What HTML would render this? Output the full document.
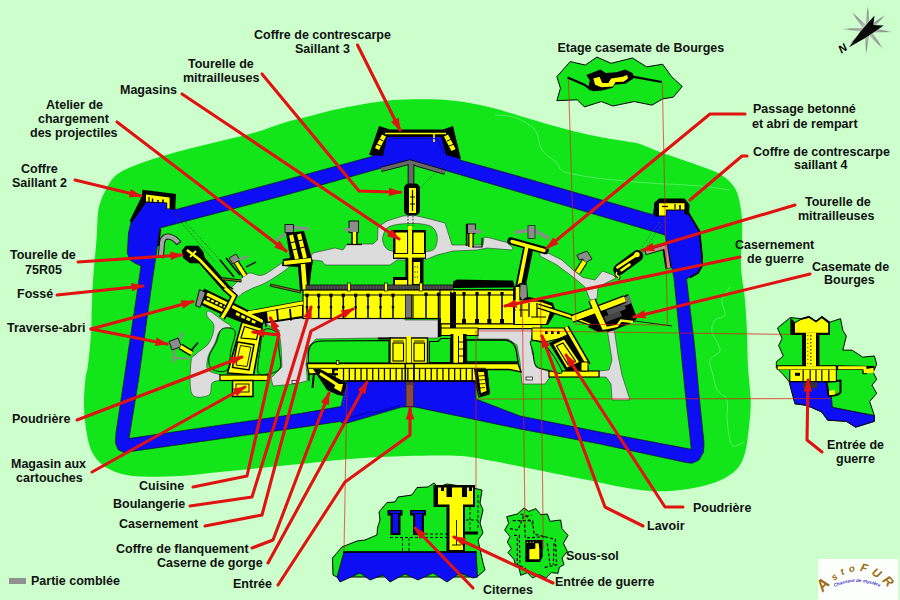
<!DOCTYPE html>
<html lang="fr"><head><meta charset="utf-8"><title>Plan du fort</title>
<style>
html,body{margin:0;padding:0;background:#ccffcc;}
body{width:900px;height:600px;overflow:hidden;}
svg{display:block}
text{font-family:"Liberation Sans",Arial,sans-serif;font-weight:bold;font-size:12.5px;fill:#111;}
</style></head><body>
<svg width="900" height="600" viewBox="0 0 900 600">
<rect x="0" y="0" width="900" height="600" fill="#ccffcc" stroke="none" stroke-width="0" />
<path d="M98,213C98.7,206.7 99.4,205.5 100.5,202C101.6,198.5 102.5,196.2 104.7,192C107.0,187.8 110.0,181.0 114,177C118.0,173.0 122.7,170.8 128.7,168C134.7,165.2 142.0,162.7 150,160C158.0,157.3 167.8,154.4 176.7,152C185.6,149.6 194.4,147.5 203.3,145.3C212.2,143.1 221.1,140.9 230,138.7C238.9,136.5 247.8,134.6 256.7,132C265.6,129.4 274.4,125.7 283.3,123C292.2,120.3 301.7,118.2 310,116C318.3,113.8 324.7,111.9 333,110C341.3,108.1 351.0,106.2 360,104.7C369.0,103.2 378.2,101.6 387,100.7C395.8,99.8 404.2,99.5 413,99.3C421.8,99.1 431.0,99.0 440,99.5C449.0,100.0 458.2,101.1 467,102.5C475.8,103.9 484.2,105.8 493,108C501.8,110.2 511.0,113.3 520,116C529.0,118.7 538.2,121.5 547,124C555.8,126.5 564.2,128.8 573,131C581.8,133.2 591.0,135.2 600,137C609.0,138.8 620.3,140.3 627,141.5C633.7,142.7 634.5,142.2 640,144C645.5,145.8 653.3,149.5 660,152C666.7,154.5 673.3,156.7 680,159C686.7,161.3 694.0,163.8 700,166C706.0,168.2 711.3,169.7 716,172C720.7,174.3 724.7,177.0 728,180C731.3,183.0 734.0,186.0 736,190C738.0,194.0 739.0,199.0 740,204C741.0,209.0 741.7,214.0 742,220C742.3,226.0 742.2,232.2 742,240C741.8,247.8 740.5,257.0 741,267C741.5,277.0 744.0,289.0 745,300C746.0,311.0 746.5,321.8 747,333C747.5,344.2 747.4,355.8 748,367C748.6,378.2 750.5,390.0 750.7,400C750.9,410.0 750.0,418.2 749,427C748.0,435.8 747.0,446.0 745,453C743.0,460.0 741.0,464.5 737,469C733.0,473.5 727.2,477.1 721,480C714.8,482.9 708.0,484.9 700,486.7C692.0,488.5 681.8,490.0 673,490.7C664.2,491.4 655.8,491.4 647,490.7C638.2,490.0 629.0,488.3 620,486.7C611.0,485.1 601.8,482.8 593,481C584.2,479.2 575.8,477.8 567,476C558.2,474.2 549.0,472.3 540,470.5C531.0,468.7 521.8,466.8 513,465C504.2,463.2 495.8,461.5 487,460C478.2,458.5 473.3,456.7 460,456C446.7,455.3 424.8,455.6 407,456C389.2,456.4 370.8,457.4 353,458.7C335.2,460.0 315.5,462.4 300,464C284.5,465.6 273.3,466.7 260,468C246.7,469.3 233.3,470.7 220,472C206.7,473.3 193.3,475.2 180,476C166.7,476.8 150.2,477.0 140,476.5C129.8,476.0 124.9,474.9 118.7,473C112.5,471.1 107.2,468.5 102.7,465C98.2,461.5 94.7,457.3 92,452C89.3,446.7 88.0,440.6 86.7,433C85.4,425.4 84.2,415.5 84,406.7C83.8,397.9 84.6,386.9 85.3,380C86.0,373.1 87.0,372.8 88,365C89.0,357.2 90.3,343.8 91,333C91.7,322.2 91.5,311.0 92,300C92.5,289.0 93.2,277.0 94,267C94.8,257.0 95.8,249.0 96.5,240C97.2,231.0 97.3,219.3 98,213Z" fill="#12e61a" stroke="none" stroke-width="0" />
<path d="M495,115C498.3,115.4 508.3,115.0 515,117.5C521.7,120.0 530.5,124.6 535,130C539.5,135.4 538.3,144.5 542,150C545.7,155.5 553.8,159.7 557,163C560.2,166.3 558.3,168.2 561,170C563.7,171.8 566.5,172.6 573,174C579.5,175.4 587.2,177.0 600,178.5C612.8,180.0 633.3,181.8 650,183C666.7,184.2 686.7,184.8 700,186C713.3,187.2 725.0,189.3 730,190" fill="none" stroke="#6df078" stroke-width="0.7" />
<path d="M730,287C728.7,289.2 722.8,295.3 722,300C721.2,304.7 726.2,311.7 725,315C723.8,318.3 717.2,317.2 715,320C712.8,322.8 711.2,327.0 712,332C712.8,337.0 720.3,345.3 720,350C719.7,354.7 711.2,355.8 710,360C708.8,364.2 711.8,370.0 713,375C714.2,380.0 714.7,385.8 717,390C719.3,394.2 725.3,395.0 727,400C728.7,405.0 726.2,412.5 727,420C727.8,427.5 729.2,441.3 732,445C734.8,448.7 742.0,442.5 744,442" fill="none" stroke="#6df078" stroke-width="0.7" />
<path d="M146,202 L131,222 L128.5,233 L127.3,253 L130,260 L134.7,263 L141,266 L136,300 L124,380 L116,433 L115.5,443 L118,449.5 L124,452.5 L300,427.5 L340,421.5 L344,424 L402,407 L415,407 L520,429 L600,444 L686,462.5 L692,463.3 L699,460 L703.5,452 L704,443 L699,395 L695,350 L686.5,279 L690,277 L698,273 L702,266 L702,256 L699.5,231.5 L689,214 L687,204 L655,204 L653,214.7 L500,171 L460,160 L452,132 L380,132 L372,156.5 L280,181.4 L175,209.8 L174,196 L143,192Z M160,228 L285,195.2 L410,160 L665,235 L674,278 L681,350 L685,390 L691.3,449.3 L600,432 L520,416 L476,399 L475,381 L347,381 L341,406.5 L300,413.5 L129,438.5 L138.5,380 L149.5,300Z" fill="#0e0ef4" stroke="#000" stroke-width="0.6" fill-rule="evenodd" stroke-linejoin="round"/>
<path d="M228,292C229.0,288.7 239.3,280.2 243,277C246.7,273.8 246.7,273.3 250,273C253.3,272.7 257.7,276.7 263,275C268.3,273.3 277.8,265.5 282,263C286.2,260.5 286.8,259.3 288,260C289.2,260.7 292.5,263.3 289,267C285.5,270.7 273.0,278.5 267,282C261.0,285.5 257.0,286.2 253,288C249.0,289.8 245.7,291.5 243,293C240.3,294.5 239.5,297.2 237,297C234.5,296.8 227.0,295.3 228,292Z" fill="#dcdcdc" stroke="#333" stroke-width="0.6" />
<polygon points="311,256 313,253 335,248 343,250 347,244 373,244 377.5,240 378,227 387,221 403,216 413,215 430,219 445,223 452,245 467,245 483,245 484,237 490,238 507,242.5 513,248 512,250 487,248 477,250 453,251 437,255 425,260 397,260 390,265 325,265 322,261 312,260 311,262" fill="#dcdcdc" stroke="#333" stroke-width="0.6" stroke-linejoin="round"/>
<path d="M383,236C383.7,233.7 384.7,229.9 387,228C389.3,226.1 393.2,225.2 397,224.5C400.8,223.8 405.8,223.6 410,223.5C414.2,223.4 418.3,223.4 422,224C425.7,224.6 429.5,225.2 432,227C434.5,228.8 436.3,231.8 437,235C437.7,238.2 437.2,243.3 436,246C434.8,248.7 434.3,250.0 430,251C425.7,252.0 416.3,252.0 410,252C403.7,252.0 396.0,251.7 392,251C388.0,250.3 387.5,249.5 386,248C384.5,246.5 383.5,244.0 383,242C382.5,240.0 382.3,238.3 383,236Z" fill="#12e61a" stroke="#333" stroke-width="0.6" />
<polygon points="540,250 550,254 562,260 573,270 583,277.5 595,280 602.5,271 613,275 616,278 598,287 597,299 590,300 585,287 573,277 557,265 540,256" fill="#dcdcdc" stroke="#333" stroke-width="0.6" stroke-linejoin="round"/>
<polygon points="607,328 614,328 618,355 622,375 630,400 612,400 611,384 606,377 599,377 599,371 609,370 612,360" fill="#dcdcdc" stroke="#333" stroke-width="0.6" stroke-linejoin="round"/>
<polygon points="262,322 300,318 405,318 405,320 438,320 438,338 378,338 316,339 308,347 306,365 307,375 307,381 295,384 273,386 271,378 282,367 281,346 279,330 270,326" fill="#dcdcdc" stroke="#333" stroke-width="0.6" stroke-linejoin="round"/>
<polygon points="478,329 533,329 531,340 532,352 536,367 550,372 550,377 545,384 522,384 520,362 517,345 508,339 478,339" fill="#dcdcdc" stroke="#333" stroke-width="0.6" stroke-linejoin="round"/>
<rect x="526" y="377" width="6.5" height="3" fill="#f4f4f4" stroke="#000" stroke-width="0.7" />
<path d="M209,311C211.5,311.7 218.3,317.3 222,320C225.7,322.7 231.3,325.2 231,327C230.7,328.8 222.7,328.3 220,331C217.3,333.7 217.0,338.7 215,343C213.0,347.3 209.2,352.5 208,357C206.8,361.5 206.0,367.0 208,370C210.0,373.0 218.0,373.3 220,375C222.0,376.7 221.3,378.7 220,380C218.7,381.3 213.8,380.5 212,383C210.2,385.5 212.3,393.2 209,395C205.7,396.8 195.0,399.5 192,394C189.0,388.5 190.3,368.7 191,362C191.7,355.3 193.0,357.2 196,354C199.0,350.8 206.0,347.7 209,343C212.0,338.3 214.3,330.5 214,326C213.7,321.5 207.8,318.5 207,316C206.2,313.5 206.5,310.3 209,311Z" fill="#dcdcdc" stroke="#333" stroke-width="0.6" />
<rect x="292" y="380.5" width="5.5" height="3" fill="#f4f4f4" stroke="#000" stroke-width="0.7" />
<path d="M160.8,258 L162,243 Q163,235.5 169.5,236.6 Q175,238 179,243.5" fill="none" stroke="#000" stroke-width="6"/>
<path d="M160.8,257.2 L162,243 Q163,235.5 169.5,236.6 Q175,238 178.4,242.8" fill="none" stroke="#a4a4a4" stroke-width="4.2"/>
<polyline points="160.5,229 158.2,246" fill="none" stroke="#000" stroke-width="1.6" />
<polyline points="381,169.6 410,162 445,172.2" fill="none" stroke="#000" stroke-width="5.2" stroke-linejoin="round"/>
<polyline points="381,169.6 410,162 445,172.2" fill="none" stroke="#686868" stroke-width="3.6" stroke-linejoin="round"/>
<polyline points="411,164 411,184" fill="none" stroke="#000" stroke-width="6.6" stroke-linejoin="round"/>
<polyline points="411,164 411,184" fill="none" stroke="#686868" stroke-width="5" stroke-linejoin="round"/>
<polyline points="645,252.5 665,246.5 668.5,268.5" fill="none" stroke="#000" stroke-width="6" stroke-linejoin="miter"/>
<polyline points="646,252.6 665.6,246.8 668.9,268" fill="none" stroke="#c48c8c" stroke-width="3.2" stroke-linejoin="miter"/>
<polygon points="142.5,189.8 176,194 175.2,209.5 166.5,209 166.8,203 146,202.5 132,222.5 129.6,221 141.8,196" fill="#000" stroke="none" stroke-width="0" />
<polygon points="146,194.6 169.6,197.6 169.6,208.6 167.2,208.6 167.2,202.6 146,201.6" fill="#ffff00" stroke="none" stroke-width="0" />
<polyline points="149,197 149,202" fill="none" stroke="#000" stroke-width="1.2" />
<polyline points="152.5,198.5 152.5,202" fill="none" stroke="#000" stroke-width="1.4" />
<polyline points="158,200 158,202.5" fill="none" stroke="#000" stroke-width="1.6" />
<polyline points="163,199.5 163,203" fill="none" stroke="#000" stroke-width="1.6" />
<polygon points="379,126 390,129.5 443,129.5 453,126 461,159 446,155 441,137 387,137 383,156 369,155" fill="#000" stroke="none" stroke-width="0" />
<polyline points="377,149 384,135.5" fill="none" stroke="#ffff00" stroke-width="4.6" />
<polyline points="446,135.5 453.5,150" fill="none" stroke="#ffff00" stroke-width="4.6" />
<polyline points="385,133.5 446,133.5" fill="none" stroke="#ffff00" stroke-width="1.5" />
<polyline points="434,134 434,142" fill="none" stroke="#ffff00" stroke-width="1.6" />
<polyline points="376.5,144 381,146" fill="none" stroke="#000" stroke-width="1" />
<polyline points="379,139 383.5,141" fill="none" stroke="#000" stroke-width="1" />
<polyline points="447,141 452,139" fill="none" stroke="#000" stroke-width="1" />
<polyline points="449,146 454.5,144" fill="none" stroke="#000" stroke-width="1" />
<polyline points="388,141 392,138.5 437,138.5 444,153" fill="none" stroke="#00a" stroke-width="0.8" />
<polygon points="654,203 659,198.5 684.5,198.5 689.5,204.5 689,215 684,214 684.5,210.5 666.5,210.5 666.5,216.5 654.5,216.5" fill="#000" stroke="none" stroke-width="0" />
<polygon points="659,203.3 684.5,203.3 684.5,209.5 666,209.5 666,215.5 659,215.5" fill="#ffff00" stroke="none" stroke-width="0" />
<polyline points="662,206.5 668,206.5" fill="none" stroke="#000" stroke-width="1.2" />
<polyline points="675,204 675,209" fill="none" stroke="#000" stroke-width="1.2" />
<polyline points="680,205 680,210" fill="none" stroke="#000" stroke-width="1.6" />
<polyline points="688.5,213 699.5,231.5 702,256 702,266 698,273 690,277.5" fill="none" stroke="#000" stroke-width="1.7" stroke-linejoin="round"/>
<rect x="404" y="183.5" width="16" height="32" rx="5" fill="#000"/>
<rect x="409" y="188" width="7" height="25" fill="#ffff00" stroke="none" stroke-width="0" />
<polyline points="412.5,190 412.5,211" fill="none" stroke="#000" stroke-width="1.2" />
<polyline points="410,197 415,197" fill="none" stroke="#000" stroke-width="1" />
<polyline points="410,204 415,204" fill="none" stroke="#000" stroke-width="1" />
<polyline points="408,216 408,226" fill="none" stroke="#000" stroke-width="0.8" stroke-dasharray="1.5 1.5"/>
<polyline points="413,216 413,226" fill="none" stroke="#000" stroke-width="0.8" stroke-dasharray="1.5 1.5"/>
<polyline points="418,190 448,160" fill="none" stroke="#444" stroke-width="0.6" stroke-dasharray="2 1.5"/>
<polygon points="181.7,250.8 185.8,245.8 198.3,245.8 203.3,251.7 205,258.3 200,263.3 190,263.3 183.3,258.3" fill="#000" stroke="none" stroke-width="0" />
<polyline points="198,256 226,288" fill="none" stroke="#000" stroke-width="8" stroke-linecap="round"/>
<polyline points="187,250 200,260 226,288" fill="none" stroke="#ffff00" stroke-width="2.6" />
<polyline points="190,257 196,251" fill="none" stroke="#ffff00" stroke-width="2" />
<polyline points="224,286 232,291" fill="none" stroke="#000" stroke-width="6" />
<polyline points="224,286 233,291" fill="none" stroke="#ffff00" stroke-width="2.2" />
<polyline points="221,278.6 241.5,281" fill="none" stroke="#111" stroke-width="3" />
<polyline points="222,278.8 241,280.9" fill="none" stroke="#8a8a00" stroke-width="0.9" />
<polyline points="172,212 215,262" fill="none" stroke="#333" stroke-width="0.6" stroke-dasharray="2 1.5"/>
<polyline points="176,212 222,262" fill="none" stroke="#333" stroke-width="0.6" stroke-dasharray="2 1.5"/>
<polyline points="220,260 234,277" fill="none" stroke="#000" stroke-width="1.6" />
<polyline points="226,258 240,275" fill="none" stroke="#000" stroke-width="1.6" />
<polyline points="236,262 245,276" fill="none" stroke="#000" stroke-width="6" stroke-linecap="butt" stroke-linejoin="miter"/>
<polyline points="236,262 245,276" fill="none" stroke="#ffff00" stroke-width="3.4" stroke-linecap="butt" stroke-linejoin="miter"/>
<polygon points="229,258 236,254 240,260 233,264" fill="#8c8c8c" stroke="#000" stroke-width="0.8" />
<polyline points="239,260 248,256" fill="none" stroke="#8c8c8c" stroke-width="2.2" />
<polyline points="246,267 256,262" fill="none" stroke="#222" stroke-width="1.6" />
<polyline points="276,240 288,232" fill="none" stroke="#8c8c8c" stroke-width="2.6" />
<polyline points="292,227 309,229" fill="none" stroke="#8c8c8c" stroke-width="3" />
<rect x="285" y="224.5" width="8.5" height="8" fill="#8c8c8c" stroke="#000" stroke-width="0.8" />
<polygon points="286,233 304,231 313,262 312,266 309,290 300,291 298,267 282,266 283,259 290,258" fill="#000" stroke="none" stroke-width="0" />
<polyline points="291,235 297,259" fill="none" stroke="#ffff00" stroke-width="4" />
<polyline points="299,234 305,258" fill="none" stroke="#ffff00" stroke-width="4" />
<polyline points="284,263 311,260" fill="none" stroke="#ffff00" stroke-width="4" />
<polyline points="303,264 305,290" fill="none" stroke="#ffff00" stroke-width="4.5" />
<polyline points="290.8,242.8 302.8,239.8" fill="none" stroke="#000" stroke-width="1" />
<polyline points="292.6,250 304.6,247" fill="none" stroke="#000" stroke-width="1" />
<rect x="393" y="230" width="33" height="29" fill="#000" stroke="none" stroke-width="0" />
<rect x="395.5" y="232.5" width="11.5" height="20.5" fill="#ffff00" stroke="none" stroke-width="0" />
<rect x="413.5" y="232.5" width="10.5" height="20.5" fill="#ffff00" stroke="none" stroke-width="0" />
<rect x="408.3" y="226" width="3.6" height="64" fill="#ffff00" stroke="none" stroke-width="0" />
<rect x="394" y="254" width="31" height="3.6" fill="#ffff00" stroke="none" stroke-width="0" />
<rect x="405.5" y="258" width="18" height="30" fill="#000" stroke="none" stroke-width="0" />
<rect x="408.3" y="226" width="3.6" height="64" fill="#ffff00" stroke="none" stroke-width="0" />
<rect x="413.5" y="262" width="6.5" height="22" fill="#ffff00" stroke="none" stroke-width="0" />
<polyline points="414.5,267 419,267" fill="none" stroke="#000" stroke-width="1.2" stroke-dasharray="1 1.4"/>
<polyline points="414.5,272 419,272" fill="none" stroke="#000" stroke-width="1.2" stroke-dasharray="1 1.4"/>
<polyline points="414.5,277 419,277" fill="none" stroke="#000" stroke-width="1.2" stroke-dasharray="1 1.4"/>
<rect x="393" y="277" width="14" height="11" fill="#000" stroke="none" stroke-width="0" />
<rect x="395" y="280" width="12" height="6" fill="#ffff00" stroke="none" stroke-width="0" />
<rect x="349" y="221" width="9.5" height="11.5" fill="#8c8c8c" stroke="#000" stroke-width="0.9" />
<polyline points="344,229.5 350,229.5" fill="none" stroke="#8c8c8c" stroke-width="3" />
<polyline points="354.5,232 354.5,244" fill="none" stroke="#000" stroke-width="6.4" stroke-linecap="butt" stroke-linejoin="miter"/>
<polyline points="354.5,232 354.5,244" fill="none" stroke="#ffff00" stroke-width="3.4" stroke-linecap="butt" stroke-linejoin="miter"/>
<polyline points="347,244.5 362,244.5" fill="none" stroke="#000" stroke-width="1.2" />
<rect x="467.5" y="224" width="8" height="9.5" fill="#8c8c8c" stroke="#000" stroke-width="0.9" />
<polyline points="475,231.5 481,231.5" fill="none" stroke="#8c8c8c" stroke-width="4" />
<polyline points="466.6,224 466.6,246" fill="none" stroke="#000" stroke-width="1.6" />
<polyline points="471,233.5 471,247" fill="none" stroke="#000" stroke-width="5.6" stroke-linecap="butt" stroke-linejoin="miter"/>
<polyline points="471,233.5 471,247" fill="none" stroke="#ffff00" stroke-width="3" stroke-linecap="butt" stroke-linejoin="miter"/>
<polyline points="472,247 482,247 482,238" fill="none" stroke="#000" stroke-width="1.2" />
<polyline points="515,232.5 531,230" fill="none" stroke="#8c8c8c" stroke-width="3.4" />
<polyline points="534,230 549,238.5" fill="none" stroke="#8c8c8c" stroke-width="3.6" />
<rect x="528" y="225.5" width="7" height="13" fill="#8c8c8c" stroke="#000" stroke-width="0.6" />
<polyline points="511,241 545,250.5" fill="none" stroke="#000" stroke-width="7.5" stroke-linecap="round"/>
<polyline points="527.5,246 518,293" fill="none" stroke="#000" stroke-width="8" />
<polyline points="530,250 522,290" fill="none" stroke="#000" stroke-width="6" />
<polyline points="512,241.5 544,250.5" fill="none" stroke="#ffff00" stroke-width="3.4" stroke-linecap="round"/>
<polyline points="527,246 517.5,294" fill="none" stroke="#ffff00" stroke-width="3.6" />
<polyline points="619,269.5 637.5,255.8" fill="none" stroke="#000" stroke-width="11.5" stroke-linecap="round"/>
<polyline points="617.5,267.3 637,254.5" fill="none" stroke="#ffff00" stroke-width="2.8" stroke-linecap="round"/>
<polyline points="621.5,270.2 629.5,264.6" fill="none" stroke="#ffff00" stroke-width="2.6" stroke-linecap="round"/>
<circle cx="637" cy="254.6" r="2.7" fill="#ffff00"/>
<path d="M617,272 Q615,275 618,276 Q620,277 617.5,279" fill="none" stroke="#000" stroke-width="3.4"/>
<path d="M617,272 Q615,275 618,276 Q620,277 617.5,279" fill="none" stroke="#ffff00" stroke-width="1.4"/>
<polyline points="640,250 652,232 660,222" fill="none" stroke="#555" stroke-width="0.7" stroke-dasharray="2 1.6"/>
<polyline points="643,252 662,224" fill="none" stroke="#555" stroke-width="0.7" stroke-dasharray="2 1.6"/>
<polygon points="577,255 587,251 592,259 585,263 583,259 579,260" fill="#8c8c8c" stroke="#000" stroke-width="0.8" />
<polyline points="584.5,261.5 577.5,272.5" fill="none" stroke="#000" stroke-width="6.6" stroke-linecap="butt" stroke-linejoin="miter"/>
<polyline points="584.5,261.5 577.5,272.5" fill="none" stroke="#ffff00" stroke-width="4.4" stroke-linecap="butt" stroke-linejoin="miter"/>
<rect x="306" y="285" width="147" height="5.5" fill="#555" stroke="#000" stroke-width="0.8" />
<polyline points="309,286 309,290" fill="none" stroke="#222" stroke-width="0.8" />
<polyline points="312,286 312,290" fill="none" stroke="#222" stroke-width="0.8" />
<polyline points="315,286 315,290" fill="none" stroke="#222" stroke-width="0.8" />
<polyline points="318,286 318,290" fill="none" stroke="#222" stroke-width="0.8" />
<polyline points="321,286 321,290" fill="none" stroke="#222" stroke-width="0.8" />
<polyline points="324,286 324,290" fill="none" stroke="#222" stroke-width="0.8" />
<polyline points="327,286 327,290" fill="none" stroke="#222" stroke-width="0.8" />
<polyline points="330,286 330,290" fill="none" stroke="#222" stroke-width="0.8" />
<polyline points="333,286 333,290" fill="none" stroke="#222" stroke-width="0.8" />
<polyline points="336,286 336,290" fill="none" stroke="#222" stroke-width="0.8" />
<polyline points="339,286 339,290" fill="none" stroke="#222" stroke-width="0.8" />
<polyline points="342,286 342,290" fill="none" stroke="#222" stroke-width="0.8" />
<polyline points="345,286 345,290" fill="none" stroke="#222" stroke-width="0.8" />
<polyline points="348,286 348,290" fill="none" stroke="#222" stroke-width="0.8" />
<polyline points="351,286 351,290" fill="none" stroke="#222" stroke-width="0.8" />
<polyline points="354,286 354,290" fill="none" stroke="#222" stroke-width="0.8" />
<polyline points="357,286 357,290" fill="none" stroke="#222" stroke-width="0.8" />
<polyline points="360,286 360,290" fill="none" stroke="#222" stroke-width="0.8" />
<polyline points="363,286 363,290" fill="none" stroke="#222" stroke-width="0.8" />
<polyline points="366,286 366,290" fill="none" stroke="#222" stroke-width="0.8" />
<polyline points="369,286 369,290" fill="none" stroke="#222" stroke-width="0.8" />
<polyline points="372,286 372,290" fill="none" stroke="#222" stroke-width="0.8" />
<polyline points="375,286 375,290" fill="none" stroke="#222" stroke-width="0.8" />
<polyline points="378,286 378,290" fill="none" stroke="#222" stroke-width="0.8" />
<polyline points="381,286 381,290" fill="none" stroke="#222" stroke-width="0.8" />
<polyline points="384,286 384,290" fill="none" stroke="#222" stroke-width="0.8" />
<polyline points="387,286 387,290" fill="none" stroke="#222" stroke-width="0.8" />
<polyline points="390,286 390,290" fill="none" stroke="#222" stroke-width="0.8" />
<polyline points="393,286 393,290" fill="none" stroke="#222" stroke-width="0.8" />
<polyline points="396,286 396,290" fill="none" stroke="#222" stroke-width="0.8" />
<polyline points="399,286 399,290" fill="none" stroke="#222" stroke-width="0.8" />
<polyline points="402,286 402,290" fill="none" stroke="#222" stroke-width="0.8" />
<polyline points="405,286 405,290" fill="none" stroke="#222" stroke-width="0.8" />
<polyline points="408,286 408,290" fill="none" stroke="#222" stroke-width="0.8" />
<polyline points="411,286 411,290" fill="none" stroke="#222" stroke-width="0.8" />
<polyline points="414,286 414,290" fill="none" stroke="#222" stroke-width="0.8" />
<polyline points="417,286 417,290" fill="none" stroke="#222" stroke-width="0.8" />
<polyline points="420,286 420,290" fill="none" stroke="#222" stroke-width="0.8" />
<polyline points="423,286 423,290" fill="none" stroke="#222" stroke-width="0.8" />
<polyline points="426,286 426,290" fill="none" stroke="#222" stroke-width="0.8" />
<polyline points="429,286 429,290" fill="none" stroke="#222" stroke-width="0.8" />
<polyline points="432,286 432,290" fill="none" stroke="#222" stroke-width="0.8" />
<polyline points="435,286 435,290" fill="none" stroke="#222" stroke-width="0.8" />
<polyline points="438,286 438,290" fill="none" stroke="#222" stroke-width="0.8" />
<polyline points="441,286 441,290" fill="none" stroke="#222" stroke-width="0.8" />
<polyline points="444,286 444,290" fill="none" stroke="#222" stroke-width="0.8" />
<polyline points="447,286 447,290" fill="none" stroke="#222" stroke-width="0.8" />
<polyline points="450,286 450,290" fill="none" stroke="#222" stroke-width="0.8" />
<polygon points="453,281.5 457,279.5 513,280.5 515,287.5 453,288" fill="#000" stroke="none" stroke-width="0" />
<rect x="303" y="290" width="212" height="28.5" fill="#ffff00" stroke="#000" stroke-width="1.2" />
<rect x="440" y="290" width="75" height="34" fill="#ffff00" stroke="#000" stroke-width="1.2" />
<rect x="441" y="324" width="100" height="4.6" fill="#ffff00" stroke="#000" stroke-width="1" />
<polyline points="303,295 515,295" fill="none" stroke="#000" stroke-width="1.1" />
<polyline points="307,295 307,318" fill="none" stroke="#000" stroke-width="1.5" />
<rect x="305.4" y="293.6" width="3.2" height="3.4" fill="#000" stroke="none" stroke-width="0" />
<rect x="305.8" y="306" width="2.4" height="2.4" fill="#000" stroke="none" stroke-width="0" />
<polyline points="318.7,295 318.7,318" fill="none" stroke="#000" stroke-width="1.5" />
<rect x="317.1" y="293.6" width="3.2" height="3.4" fill="#000" stroke="none" stroke-width="0" />
<rect x="317.5" y="306" width="2.4" height="2.4" fill="#000" stroke="none" stroke-width="0" />
<polyline points="331,295 331,318" fill="none" stroke="#000" stroke-width="1.5" />
<rect x="329.4" y="293.6" width="3.2" height="3.4" fill="#000" stroke="none" stroke-width="0" />
<rect x="329.8" y="306" width="2.4" height="2.4" fill="#000" stroke="none" stroke-width="0" />
<polyline points="343.3,295 343.3,318" fill="none" stroke="#000" stroke-width="1.5" />
<rect x="341.7" y="293.6" width="3.2" height="3.4" fill="#000" stroke="none" stroke-width="0" />
<rect x="342.1" y="306" width="2.4" height="2.4" fill="#000" stroke="none" stroke-width="0" />
<polyline points="355.7,295 355.7,318" fill="none" stroke="#000" stroke-width="1.5" />
<rect x="354.1" y="293.6" width="3.2" height="3.4" fill="#000" stroke="none" stroke-width="0" />
<rect x="354.5" y="306" width="2.4" height="2.4" fill="#000" stroke="none" stroke-width="0" />
<polyline points="368,295 368,318" fill="none" stroke="#000" stroke-width="1.5" />
<rect x="366.4" y="293.6" width="3.2" height="3.4" fill="#000" stroke="none" stroke-width="0" />
<rect x="366.8" y="306" width="2.4" height="2.4" fill="#000" stroke="none" stroke-width="0" />
<polyline points="380.5,295 380.5,318" fill="none" stroke="#000" stroke-width="1.5" />
<rect x="378.9" y="293.6" width="3.2" height="3.4" fill="#000" stroke="none" stroke-width="0" />
<rect x="379.3" y="306" width="2.4" height="2.4" fill="#000" stroke="none" stroke-width="0" />
<polyline points="393,295 393,318" fill="none" stroke="#000" stroke-width="1.5" />
<rect x="391.4" y="293.6" width="3.2" height="3.4" fill="#000" stroke="none" stroke-width="0" />
<rect x="391.8" y="306" width="2.4" height="2.4" fill="#000" stroke="none" stroke-width="0" />
<polyline points="426,294 426,319" fill="none" stroke="#000" stroke-width="1.5" />
<rect x="424.4" y="292.6" width="3.2" height="3.4" fill="#000" stroke="none" stroke-width="0" />
<polyline points="438.5,294 438.5,319" fill="none" stroke="#000" stroke-width="1.5" />
<rect x="436.9" y="292.6" width="3.2" height="3.4" fill="#000" stroke="none" stroke-width="0" />
<polyline points="464,294 464,324" fill="none" stroke="#000" stroke-width="1.6" />
<rect x="462.4" y="292" width="3.2" height="3.4" fill="#000" stroke="none" stroke-width="0" />
<rect x="462" y="319" width="4" height="5" fill="#000" stroke="none" stroke-width="0" />
<polyline points="477,294 477,324" fill="none" stroke="#000" stroke-width="1.6" />
<rect x="475.4" y="292" width="3.2" height="3.4" fill="#000" stroke="none" stroke-width="0" />
<rect x="475" y="319" width="4" height="5" fill="#000" stroke="none" stroke-width="0" />
<polyline points="489.3,294 489.3,324" fill="none" stroke="#000" stroke-width="1.6" />
<rect x="487.7" y="292" width="3.2" height="3.4" fill="#000" stroke="none" stroke-width="0" />
<rect x="487.3" y="319" width="4" height="5" fill="#000" stroke="none" stroke-width="0" />
<polyline points="502,294 502,324" fill="none" stroke="#000" stroke-width="1.6" />
<rect x="500.4" y="292" width="3.2" height="3.4" fill="#000" stroke="none" stroke-width="0" />
<rect x="500" y="319" width="4" height="5" fill="#000" stroke="none" stroke-width="0" />
<rect x="450" y="292" width="6" height="36" fill="#000" stroke="none" stroke-width="0" />
<rect x="405.5" y="295" width="6" height="23" fill="#777" stroke="#000" stroke-width="0.8" />
<polyline points="413,295 413,318" fill="none" stroke="#000" stroke-width="1.2" />
<rect x="347.5" y="283" width="3" height="8" fill="#ffff00" stroke="#000" stroke-width="0.7" />
<rect x="384.5" y="283" width="3" height="8" fill="#ffff00" stroke="#000" stroke-width="0.7" />
<rect x="419.5" y="283" width="3" height="8" fill="#ffff00" stroke="#000" stroke-width="0.7" />
<circle cx="452.5" cy="291.5" r="1.6" fill="#ffff00" stroke="#000" stroke-width="0.6"/>
<rect x="438" y="318" width="3" height="19" fill="#000" stroke="none" stroke-width="0" />
<polygon points="513,288 520,283 527,284 528,297 540,299 553,303 556,312 548,325 513,325" fill="#000" stroke="none" stroke-width="0" />
<polygon points="520.5,284.5 526.5,285 527,297 522,300 520,296" fill="#8a8a8a" stroke="none" stroke-width="0" />
<polygon points="515,300 541,302 552,306 546,324 515,324" fill="#ffff00" stroke="none" stroke-width="0" />
<polyline points="521,303 521,317" fill="none" stroke="#000" stroke-width="1.3" />
<polyline points="529,303 529,317" fill="none" stroke="#000" stroke-width="1.3" />
<polyline points="537,303 537,317" fill="none" stroke="#000" stroke-width="1.3" />
<polyline points="515,310 528,310" fill="none" stroke="#000" stroke-width="1" />
<polyline points="531,317 546,317" fill="none" stroke="#000" stroke-width="1" />
<polyline points="517.5,287 517.5,324" fill="none" stroke="#ffff00" stroke-width="3.6" />
<polyline points="538,306 575,318 610,330" fill="none" stroke="#000" stroke-width="5" stroke-linecap="butt" stroke-linejoin="miter"/>
<polyline points="538,306 575,318 610,330" fill="none" stroke="#ffff00" stroke-width="2.6" stroke-linecap="butt" stroke-linejoin="miter"/>
<polygon points="602,306 628,294 637,318 634,322 612,331 598,332 588,327" fill="#000" stroke="none" stroke-width="0" />
<polygon points="618,299.5 629,295.5 632,303 621,307" fill="#6e6e6e" stroke="none" stroke-width="0" />
<polygon points="606,310 624,304 626,309 609,316" fill="#555" stroke="none" stroke-width="0" />
<polygon points="600,318 620,311 622,316 604,323" fill="#444" stroke="none" stroke-width="0" />
<polygon points="578,318.5 598,311 604,328 594,325" fill="#000" stroke="none" stroke-width="0" />
<polyline points="572,319 596,310 625,299" fill="none" stroke="#000" stroke-width="8" stroke-linecap="butt" stroke-linejoin="miter"/>
<polyline points="572,319 596,310 625,299" fill="none" stroke="#ffff00" stroke-width="5.2" stroke-linecap="butt" stroke-linejoin="miter"/>
<polyline points="592,300 598,314 605,329" fill="none" stroke="#000" stroke-width="8" stroke-linecap="butt" stroke-linejoin="miter"/>
<polyline points="592,300 598,314 605,329" fill="none" stroke="#ffff00" stroke-width="5.2" stroke-linecap="butt" stroke-linejoin="miter"/>
<polyline points="574,318.3 596,310" fill="none" stroke="#ffff00" stroke-width="5.2" />
<polyline points="604,328.5 617,326 621,320.5 633,322" fill="none" stroke="#ffff00" stroke-width="2.4" stroke-linejoin="miter"/>
<polyline points="635,321 672,326" fill="none" stroke="#222" stroke-width="1" />
<polygon points="532,328 566,328 570,336 545,342 532,340" fill="#ffff00" stroke="#000" stroke-width="1" />
<rect x="545" y="331" width="2.6" height="3" fill="#000" stroke="none" stroke-width="0" />
<rect x="551" y="331" width="2.6" height="3" fill="#000" stroke="none" stroke-width="0" />
<rect x="557" y="331" width="2.6" height="3" fill="#000" stroke="none" stroke-width="0" />
<rect x="533" y="340" width="4" height="8" fill="#000" stroke="none" stroke-width="0" />
<polygon points="549,343 568,334 587,364 589,370 566,371" fill="#000" stroke="none" stroke-width="0" />
<polygon points="553.5,344.5 564,339.5 579,362 567,367.5" fill="#ffff00" stroke="none" stroke-width="0" />
<polygon points="556.5,346 563,343 575.5,361 568,364.5" fill="none" stroke="#000" stroke-width="1.1" />
<polyline points="566,327 588,365" fill="none" stroke="#000" stroke-width="6" stroke-linecap="butt" stroke-linejoin="miter"/>
<polyline points="566,327 588,365" fill="none" stroke="#ffff00" stroke-width="3" stroke-linecap="butt" stroke-linejoin="miter"/>
<rect x="549" y="371" width="50" height="6" fill="#ffff00" stroke="#000" stroke-width="1.2" />
<rect x="581" y="362" width="7" height="9" fill="#ffff00" stroke="#000" stroke-width="1" />
<path d="M531,341C533.2,340.0 540.8,340.8 546,346C551.2,351.2 561.7,368.0 562,372C562.3,376.0 552.3,371.0 548,370C543.7,369.0 538.5,369.0 536,366C533.5,363.0 533.8,356.2 533,352C532.2,347.8 528.8,342.0 531,341Z" fill="#12e61a" stroke="#000" stroke-width="1" />
<polygon points="204,288.5 231,301.5 265,318.5 262,328 243,323 225,316 198,303.5 201.5,296" fill="#000" stroke="none" stroke-width="0" />
<polyline points="207,294 263,321.5" fill="none" stroke="#ffff00" stroke-width="3.4" />
<polyline points="203.5,301.5 226,312" fill="none" stroke="#ffff00" stroke-width="3.2" />
<polyline points="207,298.5 228,308.5" fill="none" stroke="#ffff00" stroke-width="2.2" stroke-dasharray="3 1.6"/>
<polyline points="236,313.5 256,323" fill="none" stroke="#ffff00" stroke-width="2.6" stroke-dasharray="4 1.8"/>
<polygon points="199.5,289.5 205.5,292.5 200,307.5 195.5,305.5" fill="#8c8c8c" stroke="#000" stroke-width="0.9" />
<polyline points="270,285 301,292" fill="none" stroke="#222" stroke-width="3.2" />
<polyline points="271,285.2 300,291.8" fill="none" stroke="#8a8a00" stroke-width="0.9" />
<polygon points="246,311 303,300.5 303,318 266,323.5 262,319" fill="#000" stroke="none" stroke-width="0" />
<polyline points="248,313 303,302.8" fill="none" stroke="#ffff00" stroke-width="3.4" />
<polygon points="267,311.8 302,305.5 302,316 268,321.5" fill="#ffff00" stroke="none" stroke-width="0" />
<polyline points="277,309 278,320.5" fill="none" stroke="#000" stroke-width="1.8" />
<polyline points="290,309 291,320.5" fill="none" stroke="#000" stroke-width="1.8" />
<polyline points="225,288 234,296 228,308 222,318" fill="none" stroke="#000" stroke-width="6.4" stroke-linecap="butt" stroke-linejoin="miter"/>
<polyline points="225,288 234,296 228,308 222,318" fill="none" stroke="#ffff00" stroke-width="3.4" stroke-linecap="butt" stroke-linejoin="miter"/>
<path d="M259,317 Q266,319 266,327" fill="none" stroke="#000" stroke-width="1.6"/>
<polygon points="242,322 262,328 253.5,375 227.5,373" fill="#ffff00" stroke="#000" stroke-width="1.6" />
<polygon points="244.5,326.5 258.5,331 256.5,339.5 241,338" fill="none" stroke="#000" stroke-width="1.2" />
<polygon points="237.5,342 254,344.7 249,370 232.5,367.5" fill="none" stroke="#000" stroke-width="1.5" />
<polygon points="240.5,345.5 251,347.2 247,366.5 236,365" fill="none" stroke="#000" stroke-width="0.9" />
<rect x="220" y="375" width="48" height="5.5" fill="#ffff00" stroke="#000" stroke-width="1.2" />
<rect x="232.5" y="380.5" width="20.5" height="16" fill="#ffff00" stroke="#000" stroke-width="1.5" />
<rect x="236" y="384" width="13" height="8" fill="#ffff00" stroke="#000" stroke-width="0.9" />
<path d="M222,329C225.2,327.0 233.5,327.5 235,331C236.5,334.5 232.3,343.5 231,350C229.7,356.5 230.2,366.8 227,370C223.8,373.2 215.0,371.2 212,369C209.0,366.8 208.3,361.3 209,357C209.7,352.7 213.8,347.7 216,343C218.2,338.3 218.8,331.0 222,329Z" fill="#12e61a" stroke="#000" stroke-width="0.9" />
<path d="M264,330C266.8,327.2 274.5,329.7 277,333C279.5,336.3 278.5,344.2 279,350C279.5,355.8 281.8,364.0 280,368C278.2,372.0 271.7,373.3 268,374C264.3,374.7 259.3,376.0 258,372C256.7,368.0 259.0,357.0 260,350C261.0,343.0 261.2,332.8 264,330Z" fill="#12e61a" stroke="#000" stroke-width="0.9" />
<polyline points="178,341 183,332.7" fill="none" stroke="#8c8c8c" stroke-width="2.4" />
<polyline points="175,349 173,362.7" fill="none" stroke="#8c8c8c" stroke-width="2.2" />
<polyline points="173,358 188.7,358.7" fill="none" stroke="#8c8c8c" stroke-width="1.8" />
<polyline points="191,350.7 198,342.7" fill="none" stroke="#222" stroke-width="1.8" />
<polygon points="169,341.5 178,338 181.5,346.5 172,350" fill="#8c8c8c" stroke="#000" stroke-width="0.9" />
<polyline points="180.5,346.5 192,353.5" fill="none" stroke="#000" stroke-width="6.4" stroke-linecap="butt" stroke-linejoin="miter"/>
<polyline points="180.5,346.5 192,353.5" fill="none" stroke="#ffff00" stroke-width="3.6" stroke-linecap="butt" stroke-linejoin="miter"/>
<rect x="390" y="338" width="16.5" height="26" fill="#ffff00" stroke="#000" stroke-width="1.4" />
<rect x="393" y="343" width="10.5" height="18" fill="#ffff00" stroke="#000" stroke-width="1.1" />
<polyline points="393,341 403.5,341" fill="none" stroke="#000" stroke-width="0.9" />
<rect x="411" y="338" width="16.5" height="26" fill="#ffff00" stroke="#000" stroke-width="1.4" />
<rect x="414" y="343" width="10.5" height="18" fill="#ffff00" stroke="#000" stroke-width="1.1" />
<polyline points="414,341 424.5,341" fill="none" stroke="#000" stroke-width="0.9" />
<rect x="406.5" y="336" width="4.5" height="28" fill="#ffff00" stroke="none" stroke-width="0" />
<path d="M308.5,363 L308.5,353 Q309,341 322,341 L389,340.5 L389,363 Z" fill="#12e61a" stroke="#000" stroke-width="1.1"/>
<polyline points="378,338.5 391,338.5" fill="none" stroke="#000" stroke-width="2" />
<rect x="441" y="328" width="37" height="7.5" fill="#ffff00" stroke="#000" stroke-width="1" />
<rect x="450.5" y="334" width="16" height="48" fill="#000" stroke="none" stroke-width="0" />
<rect x="453.4" y="334" width="9.6" height="47" fill="#ffff00" stroke="none" stroke-width="0" />
<polyline points="458.5,336 458.5,380" fill="none" stroke="#000" stroke-width="1" />
<polyline points="458.5,342 463,342" fill="none" stroke="#000" stroke-width="0.9" />
<polyline points="458.5,349 463,349" fill="none" stroke="#000" stroke-width="0.9" />
<polyline points="458.5,356 463,356" fill="none" stroke="#000" stroke-width="0.9" />
<polyline points="458.5,363 463,363" fill="none" stroke="#000" stroke-width="0.9" />
<path d="M429.5,362.5 L429.5,341.5 L438,341.5 L441,338.5 L450.5,338.5 L450.5,362.5 Z" fill="#12e61a" stroke="#000" stroke-width="1.1"/>
<path d="M466.5,362 L466.5,340 L505,340 Q515,341 516.5,352 L518,362 Z" fill="#12e61a" stroke="#000" stroke-width="1.3"/>
<polygon points="307,363.5 518,363.5 521,372 509,369.5 487,369.5 489,394 479,397 475,381 347,381 335,381 335,374 309,374" fill="#ffff00" stroke="#000" stroke-width="1.3" />
<polyline points="309,368.3 486,368.3" fill="none" stroke="#000" stroke-width="1" />
<polyline points="343.5,368.3 343.5,381" fill="none" stroke="#000" stroke-width="1.3" />
<polyline points="349.35,368.3 349.35,381" fill="none" stroke="#000" stroke-width="1.3" />
<polyline points="355.2,368.3 355.2,381" fill="none" stroke="#000" stroke-width="1.3" />
<polyline points="361.05,368.3 361.05,381" fill="none" stroke="#000" stroke-width="1.3" />
<polyline points="366.9,368.3 366.9,381" fill="none" stroke="#000" stroke-width="1.3" />
<polyline points="372.75,368.3 372.75,381" fill="none" stroke="#000" stroke-width="1.3" />
<polyline points="378.6,368.3 378.6,381" fill="none" stroke="#000" stroke-width="1.3" />
<polyline points="384.45,368.3 384.45,381" fill="none" stroke="#000" stroke-width="1.3" />
<polyline points="390.3,368.3 390.3,381" fill="none" stroke="#000" stroke-width="1.3" />
<polyline points="396.15,368.3 396.15,381" fill="none" stroke="#000" stroke-width="1.3" />
<polyline points="402,368.3 402,381" fill="none" stroke="#000" stroke-width="1.3" />
<polyline points="407.85,368.3 407.85,381" fill="none" stroke="#000" stroke-width="1.3" />
<polyline points="413.7,368.3 413.7,381" fill="none" stroke="#000" stroke-width="1.3" />
<polyline points="419.55,368.3 419.55,381" fill="none" stroke="#000" stroke-width="1.3" />
<polyline points="425.4,368.3 425.4,381" fill="none" stroke="#000" stroke-width="1.3" />
<polyline points="431.25,368.3 431.25,381" fill="none" stroke="#000" stroke-width="1.3" />
<polyline points="437.1,368.3 437.1,381" fill="none" stroke="#000" stroke-width="1.3" />
<polyline points="442.95,368.3 442.95,381" fill="none" stroke="#000" stroke-width="1.3" />
<polyline points="448.8,368.3 448.8,381" fill="none" stroke="#000" stroke-width="1.3" />
<polyline points="454.65,368.3 454.65,381" fill="none" stroke="#000" stroke-width="1.3" />
<polyline points="460.5,368.3 460.5,381" fill="none" stroke="#000" stroke-width="1.3" />
<polyline points="466.35,368.3 466.35,381" fill="none" stroke="#000" stroke-width="1.3" />
<polyline points="472.2,368.3 472.2,381" fill="none" stroke="#000" stroke-width="1.3" />
<rect x="332" y="368.3" width="6" height="7" fill="#000" stroke="none" stroke-width="0" />
<rect x="334.5" y="370.5" width="5" height="2.6" fill="#ffff00" stroke="none" stroke-width="0" />
<rect x="336.5" y="360.5" width="2.4" height="4" fill="#ffff00" stroke="#000" stroke-width="0.7" />
<rect x="404.5" y="364" width="1.6" height="17" fill="#000" stroke="none" stroke-width="0" />
<rect x="413.2" y="364" width="1.6" height="17" fill="#000" stroke="none" stroke-width="0" />
<polyline points="347,381.3 475,381.3" fill="none" stroke="#000" stroke-width="1.4" />
<polygon points="474,369 487,369 490,393 480,397 476,383" fill="#000" stroke="none" stroke-width="0" />
<polygon points="478,372 484,372 486.5,391 481,393" fill="#ffff00" stroke="none" stroke-width="0" />
<polyline points="479,376 485,375.5" fill="none" stroke="#000" stroke-width="0.8" />
<polyline points="479,380 485,379.5" fill="none" stroke="#000" stroke-width="0.8" />
<polyline points="479,384 485,383.5" fill="none" stroke="#000" stroke-width="0.8" />
<polyline points="479,388 485,387.5" fill="none" stroke="#000" stroke-width="0.8" />
<polygon points="313,369 320,369 347,383 343,396 338,395 327,390" fill="#000" stroke="none" stroke-width="0" />
<polyline points="320,373.5 340,386.5" fill="none" stroke="#ffff00" stroke-width="3" />
<polygon points="336,384 343,384 341,392 334,388" fill="#ffff00" stroke="none" stroke-width="0" />
<polyline points="314,373 312.5,388" fill="none" stroke="#000" stroke-width="2" />
<polyline points="309,374 309,381" fill="none" stroke="#000" stroke-width="1.2" />
<rect x="406" y="382" width="7.4" height="24.5" fill="#8a4a3c" stroke="#3a1a10" stroke-width="0.7" />
<rect x="406" y="382" width="7.4" height="3" fill="#5a3a30" stroke="none" stroke-width="0" />
<polyline points="343,419.5 372,411.5 373,413 400,405.5" fill="none" stroke="#00009a" stroke-width="0.9" />
<polyline points="343,406 347,383" fill="none" stroke="#4444ff" stroke-width="0.8" stroke-dasharray="1.5 1.5"/>
<polygon points="556.889,76.6667 570.222,61.5556 585.333,65.1111 596.889,57.1111 611.111,63.3333 632.444,58 646.667,66.8889 662.667,64.2222 671.556,76.6667 682.222,86.4444 673.333,97.1111 662.667,98.8889 652,105.111 634.222,101.556 612.889,106 601.333,101.556 584.444,106.889 577.333,99.7778 556.889,100.667 560.444,88.2222" fill="#12e61a" stroke="#000" stroke-width="1" />
<polyline points="567.556,77.5556 584.444,84.6667 591.556,90" fill="none" stroke="#000" stroke-width="2.2" />
<polyline points="632.444,76.6667 661.778,82" fill="none" stroke="#000" stroke-width="2.2" />
<polygon points="586.222,74.8889 600.444,69.5556 605.778,73.1111 616.444,72.2222 625.333,69.5556 632.444,73.1111 634.222,77.5556 632.444,79.3333 625.333,83.7778 614.667,84.6667 612.889,87.6889 602.222,90.5333 593.333,91.2444 588,88.2222 589.778,80.2222" fill="#000" stroke="none" stroke-width="0" />
<polygon points="593.333,78.4444 599.556,76.6667 602.222,82.8889 608.444,82.8889 611.111,78.4444 622.667,76.6667 627.111,74.8889 628,78.4444 623.556,81.6444 615.556,82 612.889,86.4444 601.333,87.3333 595.111,84.6667" fill="#ffff00" stroke="none" stroke-width="0" />
<polygon points="333,575 332.5,558 342,547 357,541 365,540 377,535 377.5,528 380,520 379,512 387,502.5 395,502 398,497 412,495 417,487.5 428,487 434,483 438,487 447,484 460,486 473,488 482,490 480,503 483,510 480,523 483,533 478,540 483,563 485,570 477,577 337,577" fill="#12e61a" stroke="#000" stroke-width="1" />
<polygon points="344,552 476,552 477.5,577 473,578 460,573 447,582 433,573 418,580 405,574 390,582 383,575 370,580 360,573 340,582 337,577" fill="#0e0ef4" stroke="#000" stroke-width="0.8" />
<polyline points="343,552 477,552" fill="none" stroke="#000" stroke-width="1.6" />
<rect x="387.5" y="510" width="15" height="5.5" fill="#000" stroke="none" stroke-width="0" />
<rect x="390.5" y="513" width="10" height="22" fill="#000" stroke="none" stroke-width="0" />
<rect x="392.7" y="514" width="5.6" height="19" fill="#0e0ef4" stroke="none" stroke-width="0" />
<rect x="389.5" y="511.2" width="11" height="2" fill="#0e0ef4" stroke="none" stroke-width="0" />
<rect x="410" y="510" width="16" height="5.5" fill="#000" stroke="none" stroke-width="0" />
<rect x="413" y="513" width="11" height="22" fill="#000" stroke="none" stroke-width="0" />
<rect x="415.2" y="514" width="6.6" height="19" fill="#0e0ef4" stroke="none" stroke-width="0" />
<rect x="412" y="511.2" width="12" height="2" fill="#0e0ef4" stroke="none" stroke-width="0" />
<polyline points="390,537.5 447,537.5" fill="none" stroke="#000" stroke-width="0.9" stroke-dasharray="3 2"/>
<polyline points="402.5,538 402.5,552" fill="none" stroke="#000" stroke-width="0.9" stroke-dasharray="3 2"/>
<polyline points="409,538 409,552" fill="none" stroke="#000" stroke-width="0.9" stroke-dasharray="3 2"/>
<polyline points="420,534 447,534" fill="none" stroke="#000" stroke-width="0.9" stroke-dasharray="3 2"/>
<polygon points="433.5,485 475,485 475,507 465,507 465,552 446.5,552 446.5,507 433.5,507" fill="#000" stroke="none" stroke-width="0" />
<polygon points="438,497 473,497 473,504.5 463,504.5 463,550 449.5,550 449.5,504.5 438,504.5" fill="#ffff00" stroke="none" stroke-width="0" />
<rect x="438" y="487.5" width="8.5" height="10" fill="#ffff00" stroke="none" stroke-width="0" />
<rect x="452" y="487.5" width="10" height="10" fill="#ffff00" stroke="none" stroke-width="0" />
<rect x="467" y="487.5" width="6" height="10" fill="#ffff00" stroke="none" stroke-width="0" />
<rect x="441" y="487" width="3" height="4" fill="#000" stroke="none" stroke-width="0" />
<rect x="469" y="487" width="3" height="4" fill="#000" stroke="none" stroke-width="0" />
<polyline points="456.5,520 456.5,545" fill="none" stroke="#000" stroke-width="0.9" />
<polyline points="452,545 461,545" fill="none" stroke="#000" stroke-width="0.9" />
<rect x="463" y="531.5" width="15" height="3" fill="#000" stroke="none" stroke-width="0" />
<polyline points="470,507 470,530" fill="none" stroke="#000" stroke-width="0.9" stroke-dasharray="3 2"/>
<polyline points="478,495 478,528" fill="none" stroke="#000" stroke-width="0.9" stroke-dasharray="3 2"/>
<polyline points="466,520 478,520" fill="none" stroke="#000" stroke-width="0.9" stroke-dasharray="3 2"/>
<polygon points="524,508 528.667,511.333 536,508.667 540.667,514.667 547.333,514 550,521.333 560.667,520 562,528.667 568,535.333 563.333,543.333 567.333,551.333 562,558 564,564.667 559.333,567.333 558,573.333 551.333,572.667 546,578 539.333,574.667 532.667,578 527.333,572.667 520.667,575.333 519.333,568.667 515.333,564.667 514,559.333 508,552.667 511.333,548.667 507.333,542 510,536.667 504.667,530 508.667,523.333 506.667,516.667 517.333,514" fill="#12e61a" stroke="#000" stroke-width="1" />
<polyline points="512.667,520.667 532.667,520.667 534,534 555.333,539.333 556.667,564.667 544.667,567.333" fill="none" stroke="#000" stroke-width="1.2" stroke-dasharray="3 2"/>
<polyline points="514,535.333 519.333,535.333 520,568.667" fill="none" stroke="#000" stroke-width="1.2" stroke-dasharray="3 2"/>
<polyline points="517.333,538 517.333,564.667 526,568.667" fill="none" stroke="#000" stroke-width="1.2" stroke-dasharray="3 2"/>
<polyline points="524.667,524.667 525.333,538 544.667,536.667" fill="none" stroke="#000" stroke-width="1.2" stroke-dasharray="3 2"/>
<polyline points="547.333,543.333 550,564.667" fill="none" stroke="#000" stroke-width="1.2" stroke-dasharray="3 2"/>
<polyline points="554,543.333 553.333,564.667" fill="none" stroke="#000" stroke-width="1.2" stroke-dasharray="3 2"/>
<polyline points="510,528.667 518,530 523.333,516.667 531.333,515.333" fill="none" stroke="#000" stroke-width="1.2" stroke-dasharray="3 2"/>
<polyline points="520.667,514 527.333,516.667 532.667,524.667" fill="none" stroke="#000" stroke-width="1.2" stroke-dasharray="3 2"/>
<polygon points="525.333,540 542.667,540 542.667,556.667 540,562 525.333,562" fill="#000" stroke="none" stroke-width="0" />
<polygon points="529.333,549.333 535.333,548.667 535.333,543.333 538.667,543.333 539.333,549.333 539.333,559.333 529.333,559.333" fill="#ffff00" stroke="none" stroke-width="0" />
<polyline points="526.667,542.267 534,542.267" fill="none" stroke="#ffff00" stroke-width="0.8" stroke-dasharray="1.5 1.5"/>
<polygon points="777.5,328 790.333,317.5 800.833,318.667 809,316.333 816,321 821.834,316.333 830,322.167 840.5,318.667 842.834,330.333 846.334,336.167 842.834,350.167 852.167,350.167 862.667,357.167 874.334,356 876.667,364.167 873.167,372.334 876.667,379.334 872,385.167 876.667,393.334 869.667,401.5 874.334,415.5 874.334,421.334 855.667,427.167 846.334,421.334 827.667,420.167 821.834,412 811.334,407.334 804.333,405 795,403.834 789.167,381.667 783.333,374.667 776.333,367.667 776.333,361.834 783.333,356 778.667,345.5 782.167,338.5" fill="#12e61a" stroke="#000" stroke-width="1" />
<polygon points="789.167,381.667 830,381.667 832.334,407.334 874.334,415.5 874.334,421.334 855.667,427.167 846.334,421.334 827.667,420.167 821.834,412 811.334,407.334 804.333,405 795,403.834" fill="#0e0ef4" stroke="#000" stroke-width="0.8" />
<path d="M826.5,381.667 L840.5,380.5 L840.5,392.167 Q839.334,395.667 828.834,395.667 Z" fill="#12e61a" stroke="#000" stroke-width="2"/>
<polygon points="828.834,391 834.667,389.834 835.134,394.5 829.3,395.2" fill="#ffff00" stroke="none" stroke-width="0" />
<polygon points="790.333,317.5 795,322.167 800.833,318.667 809,316.333 816,321 821.834,316.333 830,322.167 830,335 819.5,335 819.5,365.334 837,365.334 874.334,366.034 874.8,370 867.334,370 866.867,374.2 862.667,374.2 862.2,370 837,370 837,382.134 789.167,382.134 789.167,370 776.8,370 776.8,365.334 802,365.334 802,335 790.333,335" fill="#000" stroke="none" stroke-width="0" />
<polygon points="795,323.333 800.833,320.067 809,317.967 816,322.4 821.834,318.2 828.134,323.333 828.134,332.667 795,332.667" fill="#ffff00" stroke="none" stroke-width="0" />
<polygon points="805.967,332.667 816,332.667 816,366.5 805.967,366.5" fill="#ffff00" stroke="none" stroke-width="0" />
<polygon points="777.733,366.267 835.834,366.267 835.834,369.534 777.733,369.534" fill="#ffff00" stroke="none" stroke-width="0" />
<polygon points="838.167,366.267 866.167,366.267 866.634,369.067 873.4,367.667 873.867,372.8 863.834,373.267 863.367,369.3 838.167,369.3" fill="#ffff00" stroke="none" stroke-width="0" />
<polygon points="790.333,370 835.834,370 835.834,380.967 790.333,380.967" fill="#ffff00" stroke="none" stroke-width="0" />
<polyline points="803.167,370 803.167,380.967" fill="none" stroke="#000" stroke-width="1.2" />
<polyline points="810.167,370 810.167,380.967" fill="none" stroke="#000" stroke-width="1.2" />
<polyline points="816,370 816,380.967" fill="none" stroke="#000" stroke-width="1.2" />
<polyline points="821.834,370 821.834,380.967" fill="none" stroke="#000" stroke-width="1.2" />
<polyline points="828.834,370 828.834,380.967" fill="none" stroke="#000" stroke-width="1.2" />
<polyline points="810.867,335 810.867,365.334" fill="none" stroke="#000" stroke-width="1" stroke-dasharray="1.5 2"/>
<polyline points="807.833,335 807.833,365.334" fill="none" stroke="#000" stroke-width="0.8" stroke-dasharray="1 3"/>
<rect x="795" y="372.8" width="5" height="3" fill="#000" stroke="none" stroke-width="0" />
<rect x="803.167" y="382.134" width="14" height="6" fill="#333" stroke="none" stroke-width="0" />
<text x="254" y="39" text-anchor="start" >Coffre de contrescarpe</text>
<text x="295" y="53" text-anchor="start" >Saillant 3</text>
<text x="188" y="68" text-anchor="start" >Tourelle de</text>
<text x="183" y="82" text-anchor="start" >mitrailleuses</text>
<text x="120" y="94" text-anchor="start" >Magasins</text>
<text x="46" y="109" text-anchor="start" >Atelier de</text>
<text x="38" y="123" text-anchor="start" >chargement</text>
<text x="30" y="137" text-anchor="start" >des projectiles</text>
<text x="21" y="173" text-anchor="start" >Coffre</text>
<text x="12" y="187" text-anchor="start" >Saillant 2</text>
<text x="10" y="259" text-anchor="start" >Tourelle de</text>
<text x="25" y="274" text-anchor="start" >75R05</text>
<text x="17" y="298" text-anchor="start" >Fossé</text>
<text x="7" y="332" text-anchor="start" >Traverse-abri</text>
<text x="12" y="423" text-anchor="start" >Poudrière</text>
<text x="11" y="468" text-anchor="start" >Magasin aux</text>
<text x="16" y="482" text-anchor="start" >cartouches</text>
<text x="139" y="490" text-anchor="start" >Cuisine</text>
<text x="113" y="508" text-anchor="start" >Boulangerie</text>
<text x="119" y="528" text-anchor="start" >Casernement</text>
<text x="116" y="553" text-anchor="start" >Coffre de flanquement</text>
<text x="157" y="567" text-anchor="start" >Caserne de gorge</text>
<text x="233" y="588" text-anchor="start" >Entrée</text>
<text x="31" y="585" text-anchor="start" >Partie comblée</text>
<text x="483" y="594" text-anchor="start" >Citernes</text>
<text x="555" y="586" text-anchor="start" >Entrée de guerre</text>
<text x="566" y="560" text-anchor="start" >Sous-sol</text>
<text x="647" y="530" text-anchor="start" >Lavoir</text>
<text x="693" y="512" text-anchor="start" >Poudrière</text>
<text x="827" y="449" text-anchor="start" >Entrée de</text>
<text x="836" y="463" text-anchor="start" >guerre</text>
<text x="805" y="206" text-anchor="start" >Tourelle de</text>
<text x="798" y="220" text-anchor="start" >mitrailleuses</text>
<text x="735" y="249" text-anchor="start" >Casernement</text>
<text x="747" y="263" text-anchor="start" >de guerre</text>
<text x="812" y="271" text-anchor="start" >Casemate de</text>
<text x="824" y="284" text-anchor="start" >Bourges</text>
<text x="557.5" y="52" text-anchor="start" >Etage casemate de Bourges</text>
<text x="753" y="113" text-anchor="start" >Passage betonné</text>
<text x="752" y="128" text-anchor="start" >et abri de rempart</text>
<text x="753" y="156" text-anchor="start" >Coffre de contrescarpe</text>
<text x="794" y="169" text-anchor="start" >saillant 4</text>
<rect x="9" y="578" width="17" height="6" fill="#909090" stroke="none" stroke-width="0" />
<polyline points="568.4,79 576,324.3 667.5,325 662.3,83" fill="none" stroke="#e01a10" stroke-width="1.1" stroke-opacity="0.62"/>
<polyline points="530,331 791.5,334.5" fill="none" stroke="#e01a10" stroke-width="1.1" stroke-opacity="0.62"/>
<polyline points="476,331 476,488" fill="none" stroke="#e01a10" stroke-width="1.1" stroke-opacity="0.62"/>
<polyline points="476,399 830,398.5" fill="none" stroke="#e01a10" stroke-width="1.1" stroke-opacity="0.62"/>
<polyline points="476,331 530,331" fill="none" stroke="#e01a10" stroke-width="1.1" stroke-opacity="0.62"/>
<polyline points="347,385 344,552" fill="none" stroke="#e01a10" stroke-width="1.1" stroke-opacity="0.62"/>
<polyline points="522.3,302 525,525" fill="none" stroke="#e01a10" stroke-width="1.1" stroke-opacity="0.62"/>
<polyline points="540.5,302 543.3,549" fill="none" stroke="#e01a10" stroke-width="1.1" stroke-opacity="0.62"/>
<polyline points="357.5,45 400,130" fill="none" stroke="#e01212" stroke-width="3.1" stroke-linejoin="round" stroke-linecap="round"/>
<polygon points="400.671,131.342 391.011,121.637 398.703,117.791" fill="#e01212" stroke="none" stroke-width="0" />
<polyline points="262,74 359,191 400.5,192.3" fill="none" stroke="#e01212" stroke-width="3.1" stroke-linejoin="round" stroke-linecap="round"/>
<polygon points="401.999,192.347 388.871,196.238 389.14,187.642" fill="#e01212" stroke="none" stroke-width="0" />
<polyline points="182,94 399,239" fill="none" stroke="#e01212" stroke-width="3.1" stroke-linejoin="round" stroke-linecap="round"/>
<polygon points="400.247,239.833 387.049,236.186 391.827,229.036" fill="#e01212" stroke="none" stroke-width="0" />
<polyline points="117,122 286,251" fill="none" stroke="#e01212" stroke-width="3.1" stroke-linejoin="round" stroke-linecap="round"/>
<polygon points="287.192,251.91 274.25,247.44 279.468,240.604" fill="#e01212" stroke="none" stroke-width="0" />
<polyline points="75,180 141,196" fill="none" stroke="#e01212" stroke-width="3.1" stroke-linejoin="round" stroke-linecap="round"/>
<polygon points="142.458,196.353 128.811,197.47 130.837,189.112" fill="#e01212" stroke="none" stroke-width="0" />
<polyline points="78,262 182,255" fill="none" stroke="#e01212" stroke-width="3.1" stroke-linejoin="round" stroke-linecap="round"/>
<polygon points="183.497,254.899 170.815,260.063 170.237,251.482" fill="#e01212" stroke="none" stroke-width="0" />
<polyline points="57,295 143,286" fill="none" stroke="#e01212" stroke-width="3.1" stroke-linejoin="round" stroke-linecap="round"/>
<polygon points="144.492,285.844 132.01,291.474 131.115,282.92" fill="#e01212" stroke="none" stroke-width="0" />
<polyline points="91,329 193,301.5" fill="none" stroke="#e01212" stroke-width="3.1" stroke-linejoin="round" stroke-linecap="round"/>
<polygon points="194.448,301.11 183.016,308.645 180.777,300.342" fill="#e01212" stroke="none" stroke-width="0" />
<polyline points="91,329 167,344" fill="none" stroke="#e01212" stroke-width="3.1" stroke-linejoin="round" stroke-linecap="round"/>
<polygon points="168.472,344.29 154.885,345.992 156.55,337.555" fill="#e01212" stroke="none" stroke-width="0" />
<polyline points="77,420 242,357" fill="none" stroke="#e01212" stroke-width="3.1" stroke-linejoin="round" stroke-linecap="round"/>
<polygon points="243.401,356.465 232.79,365.119 229.723,357.085" fill="#e01212" stroke="none" stroke-width="0" />
<polyline points="92,472 245,387" fill="none" stroke="#e01212" stroke-width="3.1" stroke-linejoin="round" stroke-linecap="round"/>
<polygon points="246.311,386.272 237.035,396.344 232.859,388.826" fill="#e01212" stroke="none" stroke-width="0" />
<polyline points="745,114 710,114 547,248" fill="none" stroke="#e01212" stroke-width="3.1" stroke-linejoin="round" stroke-linecap="round"/>
<polygon points="545.841,248.953 553.153,237.375 558.614,244.019" fill="#e01212" stroke="none" stroke-width="0" />
<polyline points="747,156 742,156 690,200" fill="none" stroke="#e01212" stroke-width="3.1" stroke-linejoin="round" stroke-linecap="round"/>
<polyline points="795,205 642.5,250.2" fill="none" stroke="#e01212" stroke-width="3.1" stroke-linejoin="round" stroke-linecap="round"/>
<polygon points="641.062,250.626 652.304,242.809 654.748,251.055" fill="#e01212" stroke="none" stroke-width="0" />
<polyline points="740,257 505,306" fill="none" stroke="#e01212" stroke-width="3.1" stroke-linejoin="round" stroke-linecap="round"/>
<polygon points="503.532,306.306 515.38,299.443 517.136,307.862" fill="#e01212" stroke="none" stroke-width="0" />
<polyline points="810,274 634,317" fill="none" stroke="#e01212" stroke-width="3.1" stroke-linejoin="round" stroke-linecap="round"/>
<polygon points="632.543,317.356 644.151,310.093 646.192,318.448" fill="#e01212" stroke="none" stroke-width="0" />
<polyline points="822,452 807,440 808,380" fill="none" stroke="#e01212" stroke-width="3.1" stroke-linejoin="round" stroke-linecap="round"/>
<polygon points="808.025,378.5 812.108,391.57 803.509,391.427" fill="#e01212" stroke="none" stroke-width="0" />
<polyline points="683,507 665,507 566,355" fill="none" stroke="#e01212" stroke-width="3.1" stroke-linejoin="round" stroke-linecap="round"/>
<polygon points="565.181,353.743 575.879,362.29 568.673,366.983" fill="#e01212" stroke="none" stroke-width="0" />
<polyline points="643,526 605,507 542,336" fill="none" stroke="#e01212" stroke-width="3.1" stroke-linejoin="round" stroke-linecap="round"/>
<polygon points="541.481,334.592 550.01,345.304 541.941,348.277" fill="#e01212" stroke="none" stroke-width="0" />
<polyline points="473,588 415,528" fill="none" stroke="#e01212" stroke-width="3.1" stroke-linejoin="round" stroke-linecap="round"/>
<polygon points="413.957,526.922 426.084,533.28 419.901,539.257" fill="#e01212" stroke="none" stroke-width="0" />
<polyline points="553,583 454,537" fill="none" stroke="#e01212" stroke-width="3.1" stroke-linejoin="round" stroke-linecap="round"/>
<polygon points="452.64,536.368 466.241,537.946 462.617,545.745" fill="#e01212" stroke="none" stroke-width="0" />
<polyline points="193,487 247,476 278.7,335" fill="none" stroke="#e01212" stroke-width="3.1" stroke-linejoin="round" stroke-linecap="round"/>
<polyline points="278.7,335 253,332" fill="none" stroke="#e01212" stroke-width="3.1" stroke-linejoin="round" stroke-linecap="round"/>
<polygon points="251.51,331.826 264.921,329.062 263.924,337.604" fill="#e01212" stroke="none" stroke-width="0" />
<polyline points="278.7,335 270.5,318" fill="none" stroke="#e01212" stroke-width="3.1" stroke-linejoin="round" stroke-linecap="round"/>
<polygon points="269.848,316.649 279.369,326.49 271.623,330.226" fill="#e01212" stroke="none" stroke-width="0" />
<polyline points="190,506 252,497 311,307" fill="none" stroke="#e01212" stroke-width="3.1" stroke-linejoin="round" stroke-linecap="round"/>
<polygon points="311.445,305.567 311.696,319.258 303.483,316.707" fill="#e01212" stroke="none" stroke-width="0" />
<polyline points="205,526 262,515 311,331 353,309" fill="none" stroke="#e01212" stroke-width="3.1" stroke-linejoin="round" stroke-linecap="round"/>
<polygon points="354.329,308.304 344.808,318.145 340.818,310.527" fill="#e01212" stroke="none" stroke-width="0" />
<polyline points="252,548 273,540 329,393" fill="none" stroke="#e01212" stroke-width="3.1" stroke-linejoin="round" stroke-linecap="round"/>
<polygon points="329.534,391.598 328.924,405.277 320.888,402.216" fill="#e01212" stroke="none" stroke-width="0" />
<polyline points="268,563 367,382" fill="none" stroke="#e01212" stroke-width="3.1" stroke-linejoin="round" stroke-linecap="round"/>
<polygon points="367.72,380.684 365.254,394.153 357.709,390.026" fill="#e01212" stroke="none" stroke-width="0" />
<polyline points="278,585 345,482 410,435 410,408" fill="none" stroke="#e01212" stroke-width="3.1" stroke-linejoin="round" stroke-linecap="round"/>
<polygon points="410,406.5 414.3,419.5 405.7,419.5" fill="#e01212" stroke="none" stroke-width="0" />
<defs><radialGradient id="cg" cx="867.5" cy="30" r="26" gradientUnits="userSpaceOnUse"><stop offset="0" stop-color="#ffffff"/><stop offset="0.25" stop-color="#b0b8b0"/><stop offset="0.7" stop-color="#8a8f8a"/><stop offset="1" stop-color="#c8f0c8"/></radialGradient><filter id="bl" x="-20%" y="-20%" width="140%" height="140%"><feGaussianBlur stdDeviation="0.5"/></filter></defs>
<polygon points="867.8,4 869.663,24.9433 886,14.5 872.747,28.35 893,32 872.401,32.4956 884,50 869.11,35.259 866,56 865.106,34.9517 849,44 862.178,31.3879 841,29 862.502,27.7051 851,11 865.757,24.7834" fill="url(#cg)" stroke="none" stroke-width="0" filter="url(#bl)"/>
<polygon points="849,47.3 860,32 874.5,15.5 873.3,25 883.8,25.5 872,33.5 864,38.8" fill="#0a0a0a" stroke="none" stroke-width="0" />
<text x="0" y="0" transform="translate(841.5,53.8) rotate(-35)" style="font-size:11px;font-style:italic;font-weight:bold;fill:#000">N</text>
<rect x="818" y="559" width="80" height="41" fill="#fdfffd" stroke="none" stroke-width="0" />
<path id="arc1" d="M823,593 Q 857,549 894,594" fill="none"/>
<text style="font-weight:bold;fill:#9a6c12;font-style:italic;letter-spacing:4.6px"><textPath href="#arc1"><tspan style="font-size:16px">A</tspan><tspan style="font-size:9.5px">sto</tspan><tspan style="font-size:11.5px">FU</tspan><tspan style="font-size:13px">R</tspan></textPath></text>
<path id="arc2" d="M834.5,587 Q 856,577 880,587" fill="none"/>
<text style="font-size:4.6px;font-weight:bold;fill:#3a32c8;font-style:italic"><textPath href="#arc2">Chasseur de mystère</textPath></text>
</svg>
</body></html>
